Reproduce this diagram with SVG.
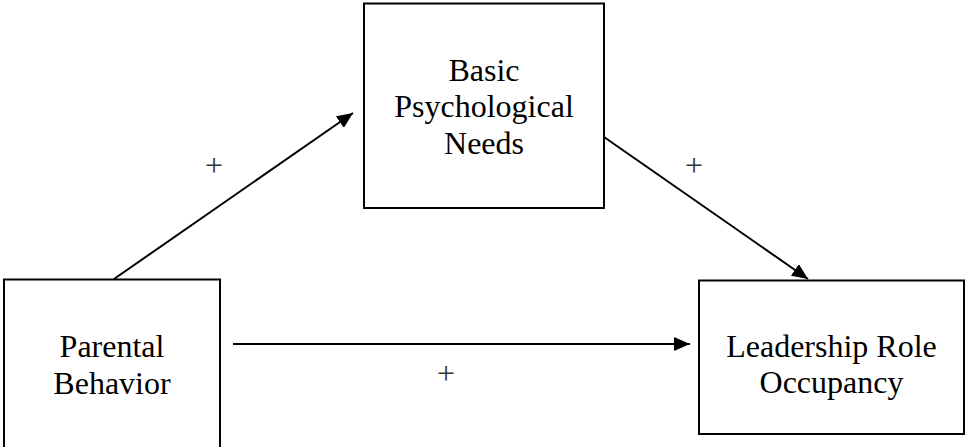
<svg xmlns="http://www.w3.org/2000/svg" width="965" height="447" viewBox="0 0 965 447">
<style>
.box{fill:#fff;stroke:#000;stroke-width:2}
.lbl{font-family:"Liberation Serif","Times New Roman",serif;font-size:32px;fill:#000;text-anchor:middle}
.plus{font-family:"Liberation Serif","Times New Roman",serif;font-size:32px;fill:#333;text-anchor:middle}
.conn{stroke:#000;stroke-width:2;fill:none;marker-end:url(#ah)}
</style>
<defs>
<marker id="ah" markerUnits="userSpaceOnUse" markerWidth="16" markerHeight="14" refX="16" refY="7" orient="auto">
<path d="M0,0 L16,7 L0,14 Z" fill="#000"/>
</marker>
</defs>
<rect width="965" height="447" fill="#fff"/>
<g id="connectors">
<line class="conn" x1="114" y1="279" x2="353" y2="113"/>
<line class="conn" x1="604" y1="137" x2="808" y2="279"/>
<line class="conn" x1="233" y1="344" x2="690" y2="344"/>
</g>
<g id="parental">
<rect class="box" x="4" y="279.5" width="216" height="180"/>
<text class="lbl" x="112" y="357">Parental</text>
<text class="lbl" x="112" y="394">Behavior</text>
</g>
<g id="needs">
<rect class="box" x="364" y="3.5" width="240" height="204.5"/>
<text class="lbl" x="484" y="81">Basic</text>
<text class="lbl" x="484" y="117">Psychological</text>
<text class="lbl" x="484" y="154">Needs</text>
</g>
<g id="leadership">
<rect class="box" x="699" y="280.5" width="265" height="153.5"/>
<text class="lbl" x="831.5" y="357">Leadership Role</text>
<text class="lbl" x="831.5" y="393">Occupancy</text>
</g>
<g id="labels">
<text class="plus" x="214" y="176">+</text>
<text class="plus" x="694" y="176">+</text>
<text class="plus" x="446" y="384">+</text>
</g>
</svg>
